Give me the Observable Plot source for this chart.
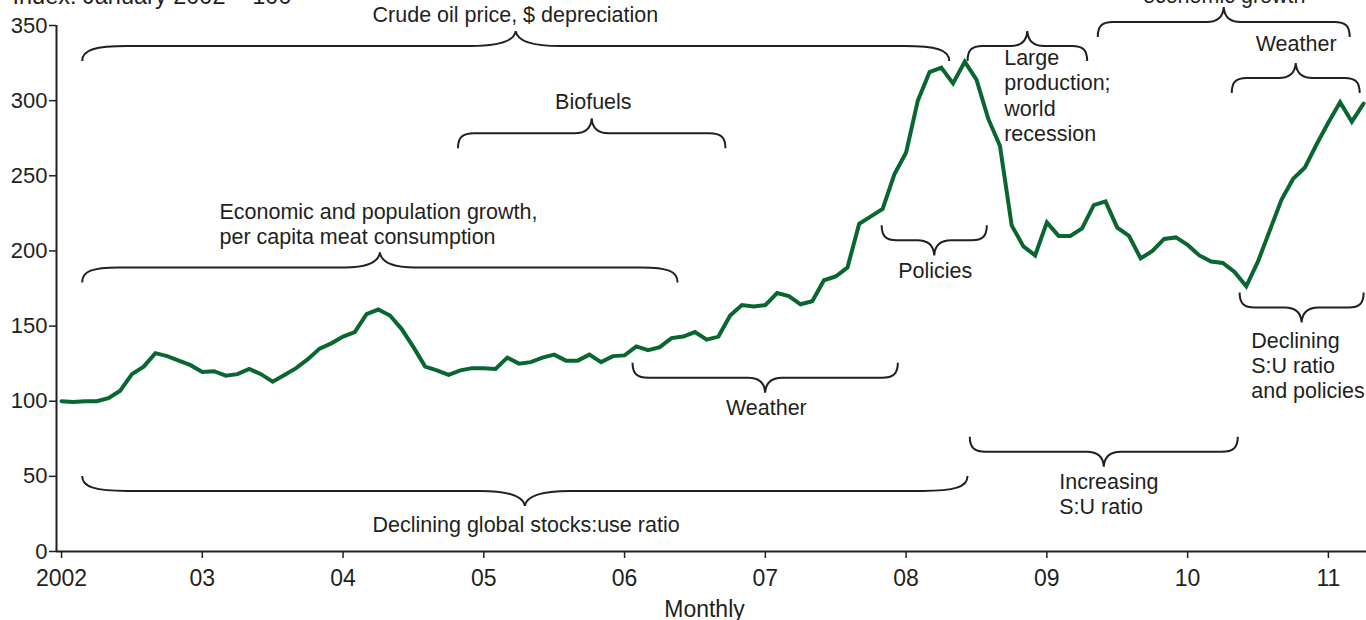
<!DOCTYPE html>
<html><head><meta charset="utf-8">
<script src="https://cdn.jsdelivr.net/npm/d3@7"></script>
<script src="https://cdn.jsdelivr.net/npm/@observablehq/plot@0.6"></script>
<style>
html,body{margin:0;padding:0;background:#fff;}
#chart svg{display:block;}
</style></head><body><div id="chart"></div>
<script>
// ---- data ----
const startYear = 2002; // January 2002 = 100, monthly values
const indexValues = [
  100, 99.5, 100, 100, 102, 107, 118, 123, 132, 130, 127, 124,
  119.5, 120, 117, 118, 121.5, 118, 113, 117.5, 122, 128, 135, 138.5,
  143, 146, 158, 161, 157, 148, 136, 123, 120.5, 117.5, 120.5, 122,
  122, 121.5, 129, 125, 126, 129, 131, 127, 127, 131, 126, 130,
  130.5, 136.5, 134, 136, 142, 143, 146, 141, 143, 157, 164, 163,
  164, 172, 170, 164.5, 166.5, 180.5, 183, 189, 218, 223, 228, 251,
  265.5, 300, 319, 322, 311.5, 326, 314, 288, 270, 217, 203, 197,
  219, 210, 210, 215, 230.5, 233, 215.5, 210, 195, 200, 208, 209,
  204, 197, 193, 192, 186, 176.5, 193, 213.5, 234, 248, 255.5, 271,
  285.5, 299, 286, 298
];
const yTicks = [0, 50, 100, 150, 200, 250, 300, 350];
const xTickYears = [2002, 2003, 2004, 2005, 2006, 2007, 2008, 2009, 2010, 2011];
const xTickLabels = ["2002", "03", "04", "05", "06", "07", "08", "09", "10", "11"];
const titleText = "Index: January 2002 = 100";
const xAxisLabel = "Monthly";

// braces (in years / index units)
const braceFrom  = [2002.15, 2008.44, 2009.365, 2010.317, 2004.82, 2002.15, 2007.83, 2006.06, 2010.373, 2008.456, 2002.15];
const braceTo    = [2008.31, 2009.29, 2011.155, 2011.226, 2006.72, 2006.38, 2008.577, 2007.945, 2011.254, 2010.36, 2008.44];
const braceLevel = [336, 336, 352, 314.7, 278, 188.7, 206.7, 115.3, 162, 66, 40];
const braceCusp  = ["up", "up", "up", "up", "up", "up", "down", "down", "down", "down", "down"];

// notes
const noteTexts = [
  "Crude oil price, $ depreciation",
  "economic growth",
  "Large\nproduction;\nworld\nrecession",
  "Weather",
  "Biofuels",
  "Economic and population growth,\nper capita meat consumption",
  "Policies",
  "Weather",
  "Declining\nS:U ratio\nand policies",
  "Increasing\nS:U ratio",
  "Declining global stocks:use ratio"
];
const noteX = [2005.224, 2010.26, 2008.697, 2010.771, 2005.778, 2003.122, 2008.207, 2007.007, 2010.452, 2009.088, 2005.30];
const noteY = [352, 364.7, 273.3, 333.3, 294.7, 204.7, 182, 90.7, 102, 24.7, 12.7];
const noteAlign = ["middle", "middle", "start", "middle", "middle", "start", "middle", "middle", "start", "start", "middle"];

// ---- build ----
const series = indexValues.map((v, i) => ({x: startYear + i / 12, y: v}));
const braces = braceFrom.map((f, i) => ({x1: f, x2: braceTo[i], y: braceLevel[i], cusp: braceCusp[i]}));
const notes = noteTexts.map((t, i) => ({text: t, x: noteX[i], y: noteY[i], align: noteAlign[i]}));

const ink = "#231f20";
const xDomain = [startYear - 0.43 / 12, startYear + 111.25 / 12];

function braceMark(list) {
  return (index, scales) => {
    const g = d3.create("svg:g").attr("fill", "none").attr("stroke", ink).attr("stroke-width", 2);
    for (const b of list) {
      const x1 = scales.x(b.x1), x2 = scales.x(b.x2), yL = scales.y(b.y);
      const d = b.cusp === "up" ? -1 : 1;
      const yT = yL - d * 15, yC = yL + d * 15;
      const w = x2 - x1, xm = (x1 + x2) / 2;
      const r = Math.min(45, Math.max(15, w * 0.06));
      const c = Math.min(45, Math.max(17, w * 0.06));
      const p = d3.path();
      p.moveTo(x1, yT);
      p.bezierCurveTo(x1, yL + (yT - yL) * 0.25, x1 + r * 0.3, yL, x1 + r, yL);
      p.lineTo(xm - c, yL);
      p.bezierCurveTo(xm - c * 0.3, yL, xm - c * 0.03, yL + (yC - yL) * 0.4, xm, yC);
      p.bezierCurveTo(xm + c * 0.03, yL + (yC - yL) * 0.4, xm + c * 0.3, yL, xm + c, yL);
      p.lineTo(x2 - r, yL);
      p.bezierCurveTo(x2 - r * 0.3, yL, x2, yL + (yT - yL) * 0.25, x2, yT);
      g.append("path").attr("d", p.toString());
    }
    return g.node();
  };
}

const font = "'Liberation Sans', Arial, Helvetica, sans-serif";

const chart = Plot.plot({
  width: 1366,
  height: 620,
  marginLeft: 56,
  marginRight: 0,
  marginTop: 25,
  marginBottom: 69,
  style: {fontFamily: font, fontSize: "22px", color: ink, background: "white"},
  x: {type: "linear", domain: xDomain},
  y: {domain: [0, 350]},
  marks: [
    Plot.axisY({ticks: yTicks, tickSize: 7, tickPadding: 2, fontSize: 22, strokeWidth: 1.5, label: null, tickFormat: d => String(d)}),
    Plot.axisX({ticks: xTickYears, tickSize: 7, tickPadding: 11, fontSize: 23, strokeWidth: 1.5, label: null,
      tickFormat: d => xTickLabels[xTickYears.indexOf(d)]}),
    Plot.ruleY([0], {stroke: ink, strokeWidth: 2}),
    Plot.ruleX([xDomain[0]], {y1: 0, y2: 350, stroke: ink, strokeWidth: 2}),
    braceMark(braces),
    Plot.text(notes.filter(n => n.align === "middle"), {x: "x", y: "y", text: "text", textAnchor: "middle",
      lineAnchor: "bottom", lineHeight: 1.17, fontSize: 21.5, fill: ink}),
    Plot.text(notes.filter(n => n.align === "start"), {x: "x", y: "y", text: "text", textAnchor: "start",
      lineAnchor: "bottom", lineHeight: 1.17, fontSize: 21.5, fill: ink}),
    Plot.line(series, {x: "x", y: "y", stroke: "#0a6630", strokeWidth: 4, strokeLinejoin: "miter", strokeMiterlimit: 4}),
    Plot.text([xAxisLabel], {text: d => d, frameAnchor: "bottom", dx: -7, dy: 65, lineAnchor: "bottom", fontSize: 23, fill: ink}),
    Plot.text([titleText], {text: d => d, frameAnchor: "top-left", dx: -44, dy: -22, textAnchor: "start", lineAnchor: "bottom", fontSize: 23.5, fill: ink})
  ]
});
document.getElementById("chart").appendChild(chart);
</script>
</body></html>
